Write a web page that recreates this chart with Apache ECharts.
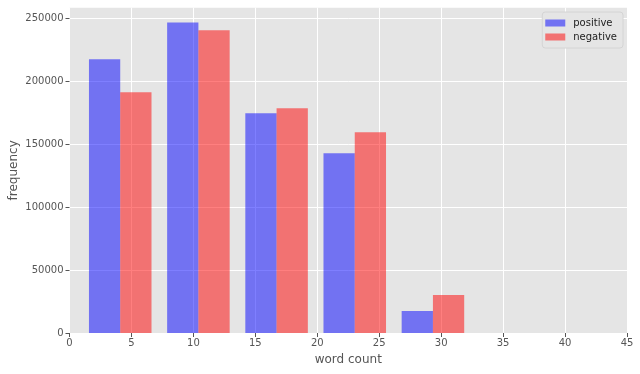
<!DOCTYPE html>
<html>
<head>
<meta charset="utf-8">
<script src="https://cdn.jsdelivr.net/npm/echarts@6/dist/echarts.min.js"></script>
<style>
html,body{margin:0;padding:0;background:#fff;}
#c{width:640px;height:374px;}
</style>
</head>
<body>
<div id="c"></div>
<script>
// Histogram bin edges (word count)
var binEdges = [0.94, 7.25, 13.56, 19.87, 26.18, 32.49];
// Frequencies per bin
var positiveCounts = [217500, 246800, 174600, 142900, 17500];
var negativeCounts = [191300, 240500, 178600, 159500, 30200];
var seriesNames = ['positive', 'negative'];
var xTicks = [0, 5, 10, 15, 20, 25, 30, 35, 40, 45];
var yTicks = [0, 50000, 100000, 150000, 200000, 250000];

var FONT = 'DejaVu Sans';
var RWIDTH = 0.8;
var NSERIES = 2;

function toData(counts) {
  return counts.map(function (v, i) { return [binEdges[i], binEdges[i + 1], v]; });
}

function makeRender(seriesIdx) {
  return function (params, api) {
    var left = api.value(0), right = api.value(1), val = api.value(2);
    var w = right - left;
    var barW = w * RWIDTH / NSERIES;
    var x0 = left + w * (1 - RWIDTH) / 2 + seriesIdx * barW;
    var x1 = x0 + barW;
    var p0 = api.coord([x0, val]);
    var p1 = api.coord([x1, 0]);
    return {
      type: 'rect',
      shape: { x: p0[0], y: p0[1], width: p1[0] - p0[0], height: p1[1] - p0[1] },
      style: { fill: api.visual('color') }
    };
  };
}

var chart = echarts.init(document.getElementById('c'), null, { renderer: 'canvas' });
var axisLabelStyle = { color: '#555555', fontFamily: FONT, fontSize: 10 };
chart.setOption({
  animation: false,
  backgroundColor: '#ffffff',
  textStyle: { fontFamily: FONT },
  grid: { left: 69.5, right: 13, top: 7.7, bottom: 41, containLabel: false, outerBoundsMode: 'none', show: true, backgroundColor: '#E5E5E5', borderWidth: 0 },
  legend: {
    orient: 'vertical',
    right: 17,
    top: 12,
    itemWidth: 20,
    itemHeight: 7,
    itemGap: 2,
    padding: [5, 6, 5, 3],
    backgroundColor: '#E5E5E5',
    borderColor: '#d4d4d4',
    borderWidth: 1,
    borderRadius: 3,
    icon: 'rect',
    data: seriesNames,
    textStyle: { color: '#222222', fontFamily: FONT, fontSize: 10, lineHeight: 12, padding: [0, 0, 0, 3] }
  },
  xAxis: {
    type: 'value',
    min: 0,
    max: 45,
    interval: 5,
    name: 'word count',
    nameLocation: 'middle',
    nameGap: 21,
    nameMoveOverlap: false,
    nameTextStyle: { color: '#555555', fontFamily: FONT, fontSize: 12 },
    axisLine: { show: false },
    axisTick: { show: true, length: 4, lineStyle: { color: '#555555', width: 1 }, customValues: xTicks },
    axisLabel: Object.assign({ margin: 5, customValues: xTicks, formatter: function (v) { return String(v); } }, axisLabelStyle),
    splitLine: { show: true, lineStyle: { color: '#ffffff', width: 1 } }
  },
  yAxis: {
    type: 'value',
    min: 0,
    max: 258500,
    interval: 50000,
    name: 'frequency',
    nameLocation: 'middle',
    nameGap: 50,
    nameMoveOverlap: false,
    nameRotate: 90,
    nameTextStyle: { color: '#555555', fontFamily: FONT, fontSize: 12 },
    axisLine: { show: false },
    axisTick: { show: true, length: 4, lineStyle: { color: '#555555', width: 1 }, customValues: yTicks },
    axisLabel: Object.assign({ margin: 6, customValues: yTicks, formatter: function (v) { return String(v); } }, axisLabelStyle),
    splitLine: { show: true, lineStyle: { color: '#ffffff', width: 1 } }
  },
  series: [
    {
      name: seriesNames[0],
      type: 'custom',
      renderItem: makeRender(0),
      itemStyle: { color: 'rgba(0,0,255,0.5)' },
      encode: { x: [0, 1], y: 2 },
      data: toData(positiveCounts)
    },
    {
      name: seriesNames[1],
      type: 'custom',
      renderItem: makeRender(1),
      itemStyle: { color: 'rgba(255,0,0,0.5)' },
      encode: { x: [0, 1], y: 2 },
      data: toData(negativeCounts)
    }
  ]
});
</script>
</body>
</html>
